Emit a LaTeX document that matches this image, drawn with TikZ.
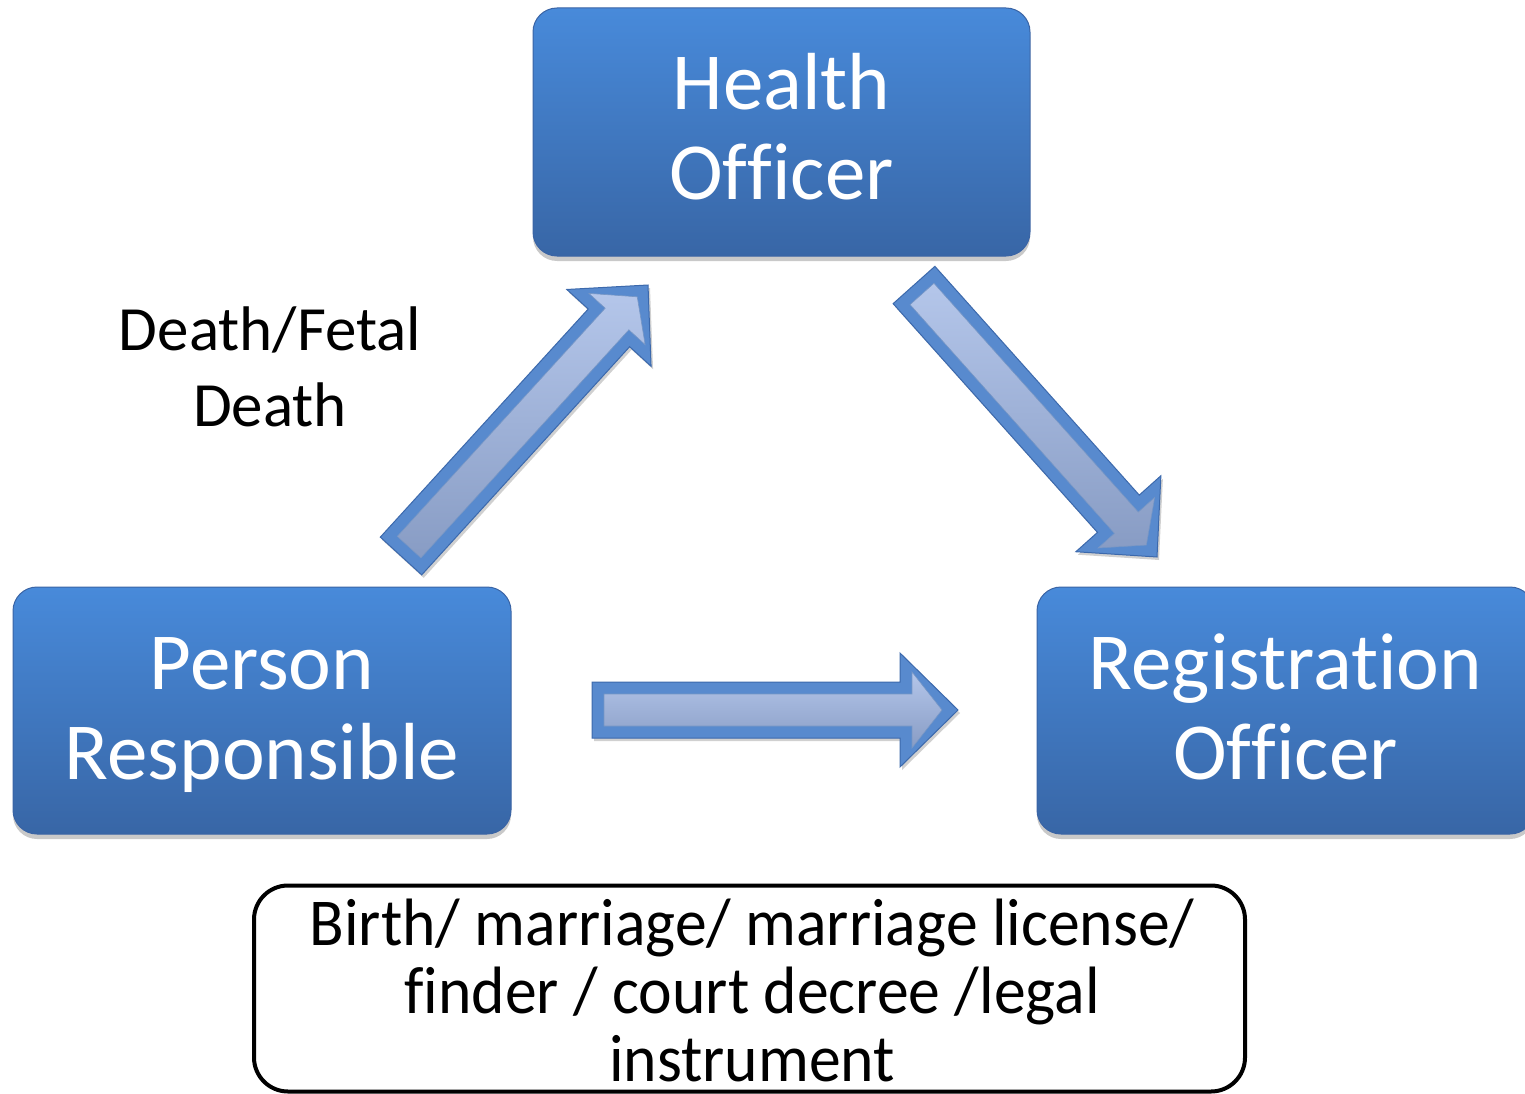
\documentclass[tikz,border=0pt]{standalone}
\usepackage{fontspec}
\usepackage{graphicx}
\setmainfont{Carlito}[Ligatures=NoCommon]
\usetikzlibrary{calc,shadows}
\newcommand\zk{\kern0pt\relax}
\definecolor{boxtop}{RGB}{72,138,218}
\definecolor{boxbot}{RGB}{56,102,166}
\definecolor{boxedge}{RGB}{58,100,165}
\definecolor{arrborder}{RGB}{88,138,206}
\definecolor{arrdark}{RGB}{60,105,172}
\definecolor{arrtop}{RGB}{180,198,234}
\definecolor{arrbot}{RGB}{136,156,196}
\tikzset{
  bluebox/.style={rounded corners=24pt, draw=boxedge, line width=1pt,
    top color=boxtop, bottom color=boxbot,
    drop shadow={shadow xshift=0pt, shadow yshift=-5pt, opacity=0.35, fill=black!60}},
  boxtext/.style={text=white, font=\fontsize{81}{90}\selectfont, anchor=base, inner sep=0pt},
  labeltext/.style={text=black, font=\fontsize{63}{76}\selectfont, anchor=base, inner sep=0pt},
  notebox/.style={rounded corners=34pt, draw=black, line width=4pt, fill=white},
  notetext/.style={text=black, font=\fontsize{67}{68}\selectfont, anchor=base, inner sep=0pt},
  arrouter/.style={fill=arrborder, draw=arrdark, line width=1pt, line join=miter,
    drop shadow={shadow xshift=2pt, shadow yshift=-3pt, opacity=0.3, fill=black!60}},
  arrinner/.style={top color=arrtop, bottom color=arrbot, draw=arrdark!70, line width=0.6pt, line join=miter},
}
% block arrow from coordinate #1 (tail middle) to coordinate #2 (tip)
\newcommand\blockarr[2]{%
  \coordinate (#1h) at ($(#2)!58pt!(#1)$);
  \coordinate (#1i) at ($(#1)!12pt!(#2)$);
  \coordinate (#2i) at ($(#2)!16pt!(#1)$);
  \coordinate (#1hi) at ($(#2)!46pt!(#1)$);
  \path[arrouter] ($(#1)!28pt!90:(#2)$) -- ($(#1h)!28pt!-90:(#1)$) -- ($(#1h)!57pt!-90:(#1)$)
     -- (#2) -- ($(#1h)!57pt!90:(#1)$) -- ($(#1h)!28pt!90:(#1)$) -- ($(#1)!28pt!-90:(#2)$) -- cycle;
  \path[arrinner] ($(#1i)!16pt!90:(#2)$) -- ($(#1hi)!16pt!-90:(#1)$) -- ($(#1hi)!38pt!-90:(#1)$)
     -- (#2i) -- ($(#1hi)!38pt!90:(#1)$) -- ($(#1hi)!16pt!90:(#1)$) -- ($(#1i)!16pt!-90:(#2)$) -- cycle;
}
\begin{document}
\begin{tikzpicture}[x=1pt,y=-1pt]
\useasboundingbox (0,0) rectangle (1525,1094);
\fill[white] (0,0) rectangle (1525,1094);

% boxes
\node[bluebox, minimum width=497pt, minimum height=248pt] (HO) at (781.5,132) {};
\node[bluebox, minimum width=498pt, minimum height=247pt] (PR) at (262,710.5) {};
\node[bluebox, minimum width=497pt, minimum height=247pt] (RO) at (1285.5,710.5) {};

\node[boxtext] (HOt) at (781.5,110) {\begin{tabular}[t]{@{}c@{}}Health\\Of\zk f\zk icer\end{tabular}};
\node[boxtext] (PRt) at (262,689) {\begin{tabular}[t]{@{}c@{}}Person\\Responsible\end{tabular}};
\node[boxtext] (ROt) at (1285.5,689) {\begin{tabular}[t]{@{}c@{}}Registrat\zk ion\\Of\zk f\zk icer\end{tabular}};

% label
\node[labeltext] (lab) at (270,350) {\begin{tabular}[t]{@{}c@{}}Death/Fetal\\Death\end{tabular}};

% arrows
\coordinate (a1s) at (401,556);
\coordinate (a1e) at (648,285);
\coordinate (a2s) at (914,285);
\coordinate (a2e) at (1157,557);
\coordinate (a3s) at (592,710);
\coordinate (a3e) at (958,710);
\blockarr{a1s}{a1e}
\blockarr{a2s}{a2e}
\blockarr{a3s}{a3e}

% note
\node[notebox, minimum width=991pt, minimum height=206pt] (note) at (749.5,988.5) {};
\node[notetext] (notet) at (752,945) {\scalebox{0.95}[1]{\vtop{\hsize=980pt\centering\baselineskip=68pt
  Birth/ marriage/ marriage license/\\f\zk inder / court decree /legal\\instrument\par}}};
\end{tikzpicture}
\end{document}
